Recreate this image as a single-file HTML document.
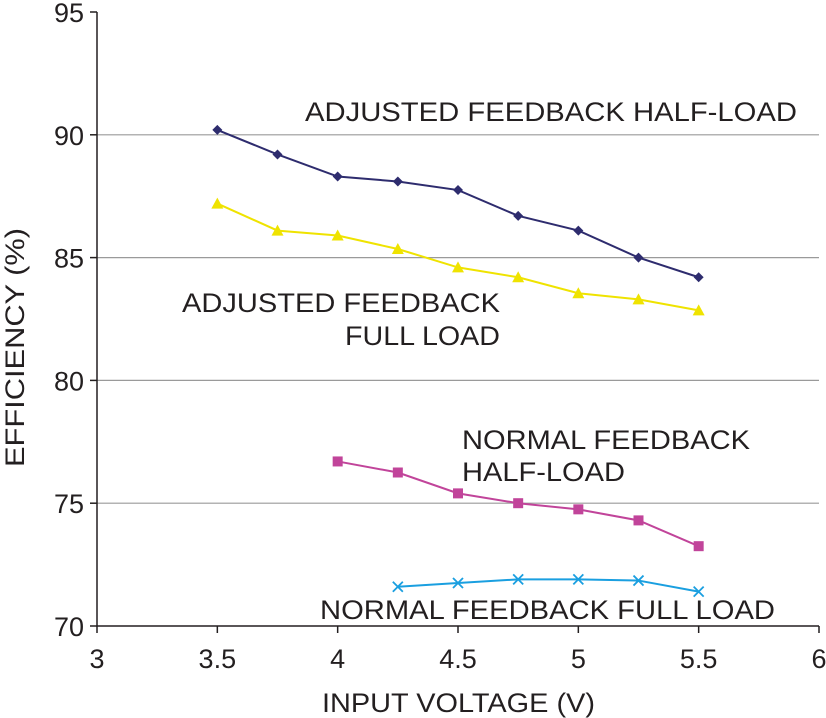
<!DOCTYPE html>
<html><head><meta charset="utf-8"><style>
body{margin:0;background:#fff;}
svg{display:block;font-family:"Liberation Sans",Arial,sans-serif;}
</style></head><body>
<svg id="chart" width="826" height="718" viewBox="0 0 826 718">
<g id="grid"></g>
<g id="axes"></g>
<g id="series"></g>
<g id="labels" font-size="27" fill="#231f20">
<text x="305" y="121" textLength="492" lengthAdjust="spacingAndGlyphs">ADJUSTED FEEDBACK HALF-LOAD</text>
<text x="182" y="312" textLength="318" lengthAdjust="spacingAndGlyphs">ADJUSTED FEEDBACK</text>
<text x="345" y="345" textLength="155" lengthAdjust="spacingAndGlyphs">FULL LOAD</text>
<text x="462" y="449" textLength="288" lengthAdjust="spacingAndGlyphs">NORMAL FEEDBACK</text>
<text x="462" y="481" textLength="163" lengthAdjust="spacingAndGlyphs">HALF-LOAD</text>
<text x="320" y="619" textLength="455" lengthAdjust="spacingAndGlyphs">NORMAL FEEDBACK FULL LOAD</text>
<text x="322" y="712" textLength="273" lengthAdjust="spacingAndGlyphs">INPUT VOLTAGE (V)</text>
<text transform="translate(24,467) rotate(-90)" textLength="239" lengthAdjust="spacingAndGlyphs">EFFICIENCY (%)</text>
</g>
</svg>
<script>
const xTicks=[3,3.5,4,4.5,5,5.5,6];
const yTicks=[70,75,80,85,90,95];
const xAdj=[3.5,3.75,4,4.25,4.5,4.75,5,5.25,5.5];
const adjHalf=[90.2,89.2,88.3,88.1,87.75,86.7,86.1,85.0,84.2];
const adjFull=[87.2,86.1,85.9,85.35,84.6,84.2,83.55,83.3,82.85];
const xNormHalf=[4,4.25,4.5,4.75,5,5.25,5.5];
const normHalf=[76.7,76.25,75.4,75.0,74.75,74.3,73.25];
const xNormFull=[4.25,4.5,4.75,5,5.25,5.5];
const normFull=[71.6,71.75,71.9,71.9,71.85,71.4];
const NS="http://www.w3.org/2000/svg";
const X=v=>97+(v-3)*(722/3);
const Y=v=>626-(v-70)*(614/25);
function mk(t,a,p){const e=document.createElementNS(NS,t);for(const k in a)e.setAttribute(k,a[k]);p.appendChild(e);return e;}
const grid=document.getElementById('grid'),axes=document.getElementById('axes'),ser=document.getElementById('series');
yTicks.forEach(v=>{
 if(v>70&&v<95){const l=mk('line',{x1:97,x2:819,y1:Y(v),y2:Y(v),stroke:'#9a9a9a','stroke-width':1.2},grid);
 
 }
 const tk=mk('line',{x1:90,x2:97,y1:Y(v),y2:Y(v),stroke:'#231f20','stroke-width':1.5},axes);
 
 
 const t=mk('text',{x:84,y:Y(v)+10,'text-anchor':'end','font-size':27,fill:'#231f20'},axes);t.textContent=v;
 
 
});
xTicks.forEach(v=>{
 const tk=mk('line',{x1:X(v),x2:X(v),y1:626,y2:633,stroke:'#231f20','stroke-width':1.5},axes);
 
 
 const t=mk('text',{x:X(v),y:668,'text-anchor':'middle','font-size':27,fill:'#231f20'},axes);t.textContent=v;
 
 
});
const ax=mk('path',{d:`M97 12V626H819`,fill:'none',stroke:'#231f20','stroke-width':1.5},axes);


function series(xs,ys,color,marker,name){
 const g=mk('g',{},ser);
 
 
 mk('polyline',{points:xs.map((x,i)=>X(x)+','+Y(ys[i])).join(' '),fill:'none',stroke:color,'stroke-width':2},g);
 xs.forEach((x,i)=>{const cx=X(x),cy=Y(ys[i]);let m;
  if(marker==='diamond')m=mk('path',{d:`M${cx} ${cy-5}L${cx+5} ${cy}L${cx} ${cy+5}L${cx-5} ${cy}Z`,fill:color},g);
  else if(marker==='tri')m=mk('path',{d:`M${cx} ${cy-6}L${cx+6} ${cy+5}L${cx-6} ${cy+5}Z`,fill:color},g);
  else if(marker==='sq')m=mk('rect',{x:cx-5,y:cy-5,width:10,height:10,fill:color},g);
  else m=mk('path',{d:`M${cx-5} ${cy-5}L${cx+5} ${cy+5}M${cx+5} ${cy-5}L${cx-5} ${cy+5}`,stroke:color,'stroke-width':1.8},g);
  
  
 });
}
series(xAdj,adjHalf,'#2e2c6e','diamond','series-adjusted-half-load');
series(xAdj,adjFull,'#efe300','tri','series-adjusted-full-load');
series(xNormHalf,normHalf,'#c1449a','sq','series-normal-half-load');
series(xNormFull,normFull,'#1a9fe0','x','series-normal-full-load');
</script>
</body></html>
